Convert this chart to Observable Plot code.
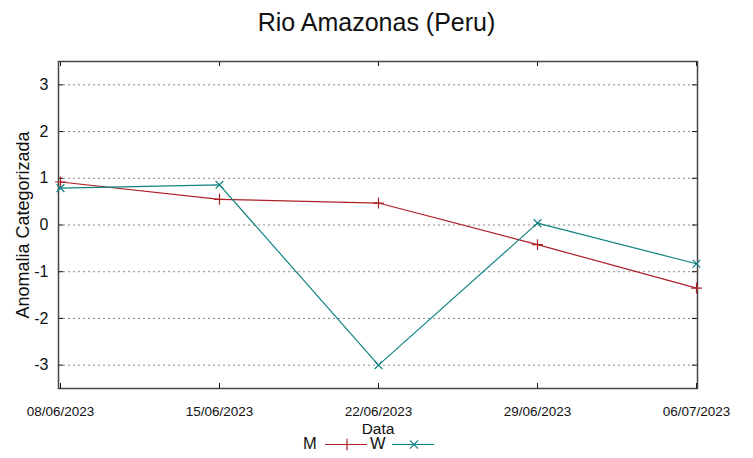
<!DOCTYPE html>
<html><head><meta charset="utf-8">
<script src="https://cdn.jsdelivr.net/npm/d3@7"></script>
<script src="https://cdn.jsdelivr.net/npm/@observablehq/plot@0.6"></script>
<style>
body{margin:0;background:#fff;font-family:"Liberation Sans",Arial,sans-serif;}
#wrap{position:relative;width:753px;height:458px;}
#title{height:45px;line-height:44px;text-align:center;font-size:25px;color:#111;}
#legend{position:absolute;left:0;top:432px;width:753px;}
</style></head><body>
<div id="wrap"><div id="title">Rio Amazonas (Peru)</div><div id="chart"></div><svg id="legend" height="25" width="753"></svg></div>
<script>
const dates = ["08/06/2023","15/06/2023","22/06/2023","29/06/2023","06/07/2023"];
const seriesM = [0.92, 0.55, 0.47, -0.42, -1.35];
const seriesW = [0.79, 0.86, -3.0, 0.04, -0.83];
const yTicks = [-3,-2,-1,0,1,2,3];
const colorM = "#ad1f26", colorW = "#118282";

const data = [
  ...dates.map((d,i)=>({date:d, value:seriesM[i], s:"M"})),
  ...dates.map((d,i)=>({date:d, value:seriesW[i], s:"W"}))
];
const W = 753, H = 413, mL = 58, mR = 56, mT = 16, mB = 70;
const fw = W-mL-mR, fh = H-mT-mB;
const chart = Plot.plot({
  width: W, height: H, marginLeft: mL, marginRight: mR, marginTop: mT, marginBottom: mB,
  style: {fontFamily: "Liberation Sans, Arial, sans-serif", color: "#111", background: "#fff"},
  x: {type: "point", domain: dates, padding: 0},
  y: {domain: [-3.5, 3.5]},
  marks: [
    Plot.ruleY(yTicks, {stroke: "#888", strokeDasharray: "2,3", strokeWidth: 1}),
    Plot.tickX(dates, {x: d=>d, insetTop: fh-5, stroke: "#111"}),
    Plot.tickX(dates, {x: d=>d, insetBottom: fh-5, stroke: "#111"}),
    Plot.tickY(yTicks, {y: d=>d, insetRight: fw-5, stroke: "#111"}),
    Plot.tickY(yTicks, {y: d=>d, insetLeft: fw-5, stroke: "#111"}),
    Plot.frame({stroke: "#444", strokeWidth: 1.5}),
    Plot.axisY({ticks: yTicks, tickFormat: d=>String(d), tickSize: 0, tickPadding: 10, fontSize: 16, label: "Anomalia Categorizada", labelAnchor: "center", labelArrow: "none", labelOffset: 42}),
    Plot.axisX({tickSize: 0, tickPadding: 18, fontSize: 13.5, label: "Data", labelAnchor: "center", labelArrow: "none", labelOffset: 45}),
    Plot.line(data.filter(d=>d.s==="M"), {x: "date", y: "value", stroke: colorM, strokeWidth: 1.2}),
    Plot.line(data.filter(d=>d.s==="W"), {x: "date", y: "value", stroke: colorW, strokeWidth: 1.2}),
    Plot.dot(data.filter(d=>d.s==="M"), {x: "date", y: "value", symbol: "plus", stroke: colorM, r: 3.6, strokeWidth: 1.2}),
    Plot.dot(data.filter(d=>d.s==="W"), {x: "date", y: "value", symbol: "times", stroke: colorW, r: 3.6, strokeWidth: 1.2})
  ]
});
chart.querySelectorAll('g[aria-label="y-axis label"] text').forEach(t=>t.setAttribute("font-size", 18));
chart.querySelectorAll('g[aria-label="x-axis label"] text').forEach(t=>{t.setAttribute("font-size", 15.5);});
document.getElementById("chart").appendChild(chart);

// legend
const lg = d3.select("#legend").style("font-family","Liberation Sans, Arial, sans-serif");
const items = [{k:"M", c:colorM, sym:d3.symbolPlus, x0:303}, {k:"W", c:colorW, sym:d3.symbolTimes, x0:370}];
items.forEach(it=>{
  lg.append("text").attr("x", it.x0).attr("y", 17).attr("font-size", 16.5).attr("fill","#111").text(it.k);
  lg.append("line").attr("x1", it.x0+22).attr("x2", it.x0+22+42).attr("y1", 12.5).attr("y2", 12.5).attr("stroke", it.c).attr("stroke-width",1.2);
  lg.append("path").attr("transform",`translate(${it.x0+44},12.5)`).attr("d", d3.symbol(it.sym, 45)()).attr("fill","none").attr("stroke", it.c).attr("stroke-width",1.2);
});
</script></body></html>
